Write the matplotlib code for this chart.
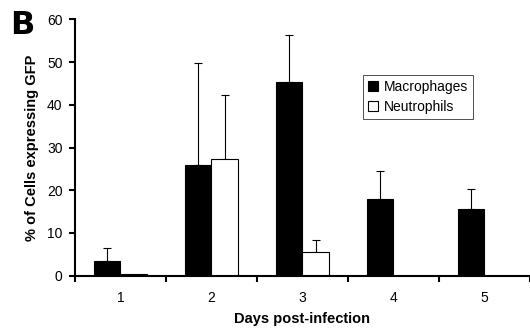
import matplotlib
matplotlib.use("Agg")
import matplotlib.pyplot as plt
import numpy as np

plt.rcParams['font.family'] = ['Liberation Sans', 'DejaVu Sans']

days = ["1", "2", "3", "4", "5"]
macrophages = [3.5, 25.9, 45.3, 17.9, 15.7]
macrophages_err = [2.9, 23.8, 11.1, 6.7, 4.7]
neutrophils = [0.5, 27.3, 5.6, 0.0, 0.0]
neutrophils_err = [0.0, 15.0, 2.7, 0.0, 0.0]

fig = plt.figure(figsize=(5.3, 3.3), dpi=100)
ax = fig.add_axes([0.1415, 0.1645, 0.8585, 0.777])

x = np.arange(1, len(days) + 1)
w = 0.29
ax.bar(x - w / 2, macrophages, w, color='black', edgecolor='black', linewidth=0.8,
       label='Macrophages', zorder=2)
ax.bar(x + w / 2, neutrophils, w, color='white', edgecolor='black', linewidth=0.8,
       label='Neutrophils', zorder=2)

me = np.array(macrophages_err)
ne = np.array(neutrophils_err)
ax.errorbar(x - w / 2, macrophages, yerr=[np.zeros_like(me), me], fmt='none',
            ecolor='black', elinewidth=0.8, capsize=2.9, capthick=0.8, zorder=1)
mask = ne > 0
ax.errorbar((x + w / 2)[mask], np.array(neutrophils)[mask],
            yerr=[np.zeros(mask.sum()), ne[mask]], fmt='none',
            ecolor='black', elinewidth=0.8, capsize=2.9, capthick=0.8, zorder=1)

ax.set_xlim(0.5, 5.446)
ax.set_ylim(0, 60)
ax.set_yticks([0, 10, 20, 30, 40, 50, 60])
ax.set_xticks(np.arange(0.5, 5.6, 1.0))
ax.set_xticklabels([])
ax.set_xticks(x, minor=True)
ax.set_xticklabels(days, minor=True)
ax.tick_params(axis='x', which='minor', length=0, pad=11, labelsize=10)
ax.tick_params(axis='x', which='major', length=4, width=1.5, direction='out')
ax.tick_params(axis='y', length=4, width=1.5, direction='out', labelsize=10, pad=5)

for s in ['top', 'right']:
    ax.spines[s].set_visible(False)
for s in ['left', 'bottom']:
    ax.spines[s].set_linewidth(1.5)

ax.set_ylabel('% of Cells expressing GFP', fontsize=10.5, fontweight='bold', labelpad=6)
ax.set_xlabel('Days post-infection', fontsize=10.5, fontweight='bold', labelpad=5)

leg = ax.legend(loc='upper left', bbox_to_anchor=(0.633, 0.783), frameon=True,
                fancybox=False, edgecolor='black', fontsize=10, handlelength=0.75,
                handleheight=0.75, handletextpad=0.4, borderpad=0.35, labelspacing=0.45,
                borderaxespad=0)
leg.get_frame().set_linewidth(0.6)

fig.text(10 / 530, 1 - 34 / 330, 'B', fontsize=23, fontweight='bold', va='baseline',
         ha='left', family=['DejaVu Sans'])

fig.savefig('out.png', dpi=100)
